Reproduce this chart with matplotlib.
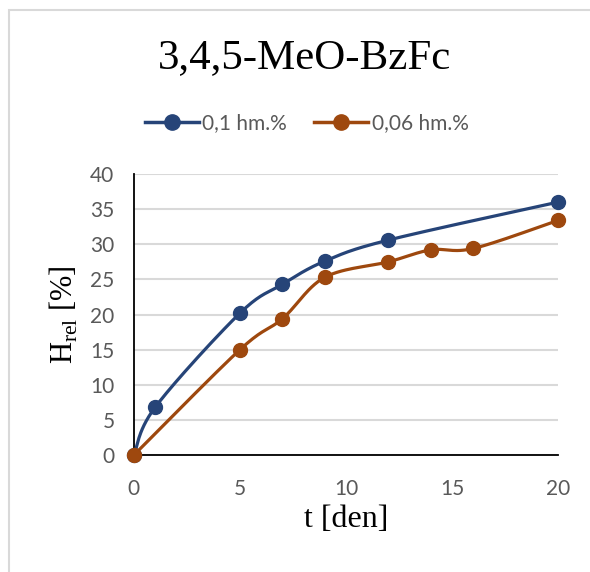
import numpy as np
import matplotlib
matplotlib.use("Agg")
import matplotlib.pyplot as plt
from matplotlib.lines import Line2D
from matplotlib.patches import Rectangle

# data
t_blue = [0, 1, 5, 7, 9, 12, 20]
h_blue = [0, 6.8, 20.2, 24.3, 27.6, 30.6, 36.0]
t_orange = [0, 5, 7, 9, 12, 14, 16, 20]
h_orange = [0, 15.0, 19.4, 25.3, 27.5, 29.2, 29.4, 33.4]
labels = ["0,1 hm.%", "0,06 hm.%"]
colors = ["#264478", "#9E480E"]


def smooth(x, y, n=30):
    # Catmull-Rom style smoothing, like Excel's smoothed line
    x = np.asarray(x, float)
    y = np.asarray(y, float)
    px = np.concatenate([[x[0]], x, [x[-1]]])
    py = np.concatenate([[y[0]], y, [y[-1]]])
    xs, ys = [], []
    for i in range(1, len(px) - 2):
        p0 = np.array([px[i - 1], py[i - 1]])
        p1 = np.array([px[i], py[i]])
        p2 = np.array([px[i + 1], py[i + 1]])
        p3 = np.array([px[i + 2], py[i + 2]])
        c1 = p1 + (p2 - p0) / 6
        c2 = p2 - (p3 - p1) / 6
        s = np.linspace(0, 1, n)[:, None]
        pts = ((1 - s) ** 3) * p1 + 3 * ((1 - s) ** 2) * s * c1 + 3 * (1 - s) * s ** 2 * c2 + s ** 3 * p2
        xs.extend(pts[:, 0])
        ys.extend(pts[:, 1])
    return xs, ys


fig = plt.figure(figsize=(5.9, 5.72), dpi=100)
fig.patches.append(Rectangle((9 / 590, -0.1), 1.2, 1 - 10 / 572 + 0.1, transform=fig.transFigure,
                             fill=False, edgecolor="#d9d9d9", linewidth=1.5))
ax = fig.add_axes([0.227, 0.2045, 0.719, 0.4913])

for (tx, hy), c, lab in zip([(t_blue, h_blue), (t_orange, h_orange)], colors, labels):
    sx, sy = smooth(tx, hy)
    ax.plot(sx, sy, color=c, lw=2.3, zorder=3, clip_on=False)
    ax.plot(tx, hy, "o", color=c, ms=10, zorder=4, clip_on=False)

ax.set_xlim(0, 20)
ax.set_ylim(0, 40)
ax.set_xticks([0, 5, 10, 15, 20])
ax.set_yticks(range(0, 41, 5))
ax.grid(axis="y", color="#d9d9d9", lw=1.5)
ax.set_axisbelow(True)
for s in ["top", "right"]:
    ax.spines[s].set_visible(False)
for s in ["left", "bottom"]:
    ax.spines[s].set_color("black")
    ax.spines[s].set_linewidth(1.3)
ax.tick_params(length=0, labelsize=15, labelcolor="#595959")
ax.tick_params(axis="x", pad=17)
ax.tick_params(axis="y", pad=14)
for lbl in ax.get_xticklabels() + ax.get_yticklabels():
    lbl.set_fontfamily("Lato")

ax.set_xlabel("t [den]", fontsize=23, family="Liberation Serif")
ax.xaxis.set_label_coords(0.5, -0.178)
ax.set_ylabel(r"H$_{\mathregular{rel}}$ [%]", fontsize=22, family="Liberation Serif")
ax.yaxis.set_label_coords(-0.128, 0.5)

fig.text(0.517, 0.899, "3,4,5-MeO-BzFc", ha="center", va="center", fontsize=31, family="Liberation Serif")

handles = [Line2D([], [], color=c, lw=2.5, marker="o", ms=11) for c in colors]
fig.legend(handles, labels, loc="center", bbox_to_anchor=(0.52, 0.785), ncol=2, frameon=False,
           prop={"family": "Lato", "size": 15}, labelcolor="#595959", handlelength=2.6,
           columnspacing=1.3, handletextpad=0.15)

fig.savefig("out.png", dpi=100)
